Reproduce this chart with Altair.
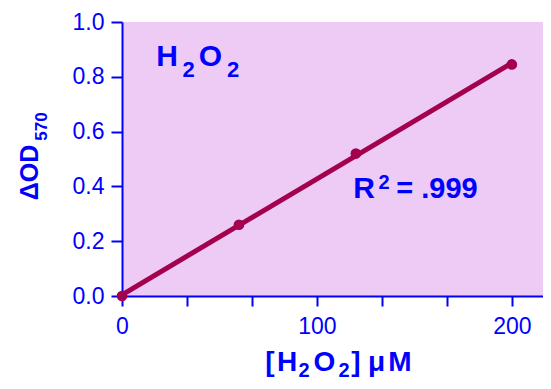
import altair as alt
import pandas as pd

# Data
conc = [0, 60, 120, 200]
od = [0.0, 0.26, 0.52, 0.845]
x_ticks = [0, 100 / 3, 200 / 3, 100, 400 / 3, 500 / 3, 200]
y_ticks = [0.0, 0.2, 0.4, 0.6, 0.8, 1.0]

# Rich-text labels split into pieces (normal / subscript / superscript)
seg_text = ["H", "2", "O", "2",                          # panel label
            "R", "2", "= .999",                           # R squared
            "[", "H", "2", "O", "2", "]", "μ", "M",       # x-axis title
            "ΔOD", "570"]                                 # y-axis title
# placement (page pixels, centre of each piece / baseline)
seg_px = [167, 188.5, 210.5, 233,
          364, 384, 437,
          270, 287, 304, 324.5, 344, 356, 376.5, 400,
          38, 47]
seg_py = [66, 77, 66, 77,
          198, 189, 198,
          371, 371, 377, 371, 377, 371, 371, 371,
          172.5, 126.5]
seg_size = [30, 22, 30, 22,
            30, 20, 29,
            28, 28, 20, 28, 20, 28, 28, 28,
            25, 17]
seg_angle = [0, 0, 0, 0,
             0, 0, 0,
             0, 0, 0, 0, 0, 0, 0, 0,
             270, 270]

ORIGIN_X, ORIGIN_Y = 122, 22

df = pd.DataFrame({"conc": conc, "od": od})
seg = pd.DataFrame({
    "t": seg_text,
    "px": [v - ORIGIN_X for v in seg_px],
    "py": [v - ORIGIN_Y for v in seg_py],
    "fs": seg_size,
    "ang": seg_angle,
})

BLUE = "#0000FF"
LINE = "#A3004E"
BG = "#EECBF5"
FONT = "Liberation Sans"

xs = alt.Scale(domain=[0, 216], nice=False, zero=True)
ys = alt.Scale(domain=[0, 1.0], nice=False, zero=True)

x_axis = alt.Axis(
    title=None,
    values=x_ticks,
    labelExpr="(abs(datum.value) < 0.01 || abs(datum.value-100) < 0.01 || abs(datum.value-200) < 0.01) ? format(datum.value, 'd') : ''",
    tickSize=10,
    labelPadding=9,
    labelFlush=False,
)
y_axis = alt.Axis(
    title=None,
    values=y_ticks,
    format=".1f",
    tickSize=11,
    labelPadding=7,
    labelFlush=False,
)

base = alt.Chart(df)
line = base.transform_regression("conc", "od", extent=[0, 200]).mark_line(
    color=LINE, strokeWidth=5
).encode(
    x=alt.X("conc:Q", scale=xs, axis=x_axis),
    y=alt.Y("od:Q", scale=ys, axis=y_axis),
)
pts = base.mark_circle(size=115, color=LINE, opacity=1).encode(
    x=alt.X("conc:Q", scale=xs),
    y=alt.Y("od:Q", scale=ys),
)
txt = alt.Chart(seg).mark_text(
    font=FONT, fontWeight="bold", color=BLUE, align="center", baseline="alphabetic"
).encode(
    x=alt.X("px:Q", scale=None),
    y=alt.Y("py:Q", scale=None),
    size=alt.Size("fs:Q", scale=None, legend=None),
    angle=alt.Angle("ang:Q", scale=None),
    text="t:N",
)

chart = (
    alt.layer(line, pts, txt)
    .properties(
        width=421,
        height=274,
        autosize=alt.AutoSizeParams(type="none"),
        padding={"left": 114, "top": 14, "right": 0, "bottom": 85},
    )
    .configure_view(fill=BG, stroke=None)
    .configure_axis(
        grid=False,
        domainColor=BLUE,
        domainWidth=2,
        tickColor=BLUE,
        tickWidth=2,
        labelColor=BLUE,
        labelFont=FONT,
        labelFontSize=23,
    )
)

chart.save("out.html", embed_options={"renderer": "svg", "actions": False})
